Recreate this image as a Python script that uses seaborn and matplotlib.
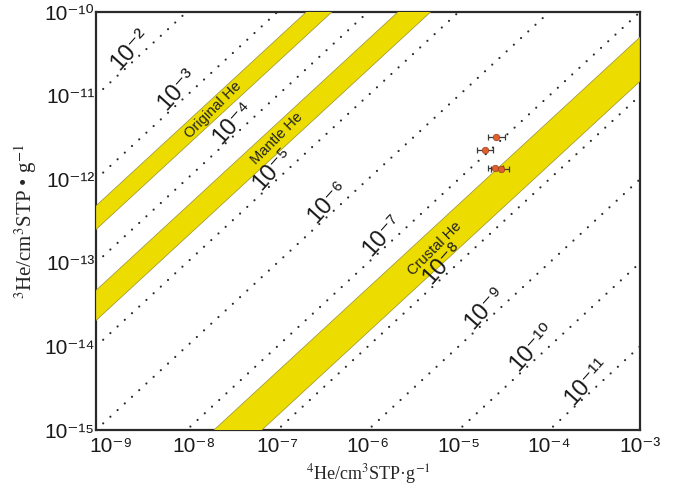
import numpy as np
import pandas as pd
import matplotlib
matplotlib.use("Agg")
import matplotlib.pyplot as plt
from matplotlib.ticker import FuncFormatter
from matplotlib.transforms import ScaledTranslation
import seaborn as sns

# 3He/4He ratio lines (exponents of 10)
ratio_exp = [-2, -3, -4, -5, -6, -7, -8, -9, -10, -11]
# where the ratio labels sit along each line (log10 of 4He)
ratio_label_logx = [-8.62, -8.10, -7.49, -7.05, -6.44, -5.84, -5.17, -4.71, -4.18, -3.59]

# helium source bands as 3He/4He ranges
band_names = ["Original He", "Mantle He", "Crustal He"]
band_low = [2.5e-4, 2.04e-5, 1.48e-8]
band_high = [4.8e-4, 4.68e-5, 5.0e-8]
band_label_logx = [-7.71, -7.00, -5.26]

# samples
he4 = [2.57e-5, 1.96e-5, 2.51e-5, 2.90e-5]
he3 = [3.16e-12, 2.22e-12, 1.37e-12, 1.32e-12]
he4_err_lo = [0.48e-5, 0.36e-5, 0.42e-5, 0.64e-5]
he4_err_hi = [0.67e-5, 0.44e-5, 0.56e-5, 0.70e-5]

SUP = str.maketrans("-0123456789", "⁻⁰¹²³⁴⁵⁶⁷⁸⁹")


def pow10(e):
    return "10" + str(e).translate(SUP)


sns.set_style("white")
plt.rcParams["font.family"] = ["Liberation Sans", "DejaVu Sans"]

fig = plt.figure(figsize=(6.74, 4.92), dpi=100)
ax = fig.add_axes([0.1424, 0.126, 0.8071, 0.8496])

xgrid = np.logspace(-9, -3, 60)

lines = pd.DataFrame([
    {"ratio": e, "he4": x, "he3": 10.0 ** e * x}
    for e in ratio_exp for x in (1e-9, 1e-3)
])
sns.lineplot(data=lines, x="he4", y="he3", units="ratio", estimator=None,
             color="#2a2a2a", linewidth=1.6, linestyle=(0, (0.01, 4.4)),
             dash_capstyle="round", ax=ax, legend=False, zorder=2)

for lo, hi in zip(band_low, band_high):
    ax.fill_between(xgrid, lo * xgrid, hi * xgrid, facecolor="#ecdc00",
                    edgecolor="#9a9030", linewidth=0.5, zorder=3)

ax.set_xscale("log")
ax.set_yscale("log")
ax.set_xlim(1e-9, 1e-3)
ax.set_ylim(1e-15, 1e-10)

for e, lx in zip(ratio_exp, ratio_label_logx):
    x = 10.0 ** lx
    ax.text(x, 10.0 ** (e + 0.17) * x, pow10(e), fontsize=17,
            rotation=48, ha="center", va="center", color="#1a1a1a", zorder=4)

for name, lo, hi, lx in zip(band_names, band_low, band_high, band_label_logx):
    x = 10.0 ** lx
    ax.text(x, np.sqrt(lo * hi) * x, name, fontsize=10.5, rotation=45,
            ha="center", va="center", color="#222222", zorder=5)

ax.errorbar(he4, he3, xerr=[he4_err_lo, he4_err_hi], fmt="none",
            ecolor="#3a3a3a", elinewidth=0.9, capsize=2.2, capthick=0.9, zorder=6)
sns.scatterplot(x=he4, y=he3, s=22, color="#e0602c", edgecolor="#9a4020",
                linewidth=0.5, ax=ax, zorder=7)

ax.set_xticks([10.0 ** k for k in range(-9, -2)])
ax.set_yticks([10.0 ** k for k in range(-15, -9)])
ax.minorticks_off()
fmt = FuncFormatter(lambda v, p: pow10(int(round(np.log10(v)))))
ax.xaxis.set_major_formatter(fmt)
ax.yaxis.set_major_formatter(fmt)
ax.tick_params(axis="both", length=0, labelsize=15, colors="#1a1a1a")
ax.tick_params(axis="x", pad=5)
ax.tick_params(axis="y", pad=1)

# the first x labels sit a little right of their ticks, as in the original
for lab, dx in zip(ax.get_xticklabels(), [15, 7, 0, 0, 0, 0, 0]):
    lab.set_transform(lab.get_transform() + ScaledTranslation(dx / 100, 0, fig.dpi_scale_trans))

for s in ax.spines.values():
    s.set_color("#2a2a2a")
    s.set_linewidth(1.6)

ax.set_xlabel("$^{4}$He/cm$^{3}$STP·g$^{-1}$", fontsize=13,
              family="Liberation Serif", math_fontfamily="stix", labelpad=4)
ax.set_ylabel("$^{3}$He/cm$^{3}$STP • g$^{-1}$", fontsize=15,
              family="Liberation Serif", math_fontfamily="stix", labelpad=4)

fig.savefig("out.png", dpi=100)
